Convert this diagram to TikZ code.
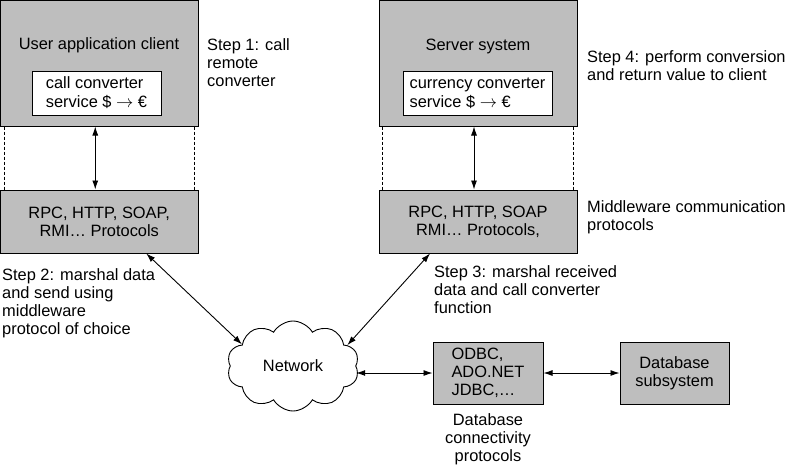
\documentclass[tikz,border=0pt]{standalone}
\usepackage{fontspec}
\setmainfont{Liberation Sans}
\usetikzlibrary{arrows.meta,shapes.symbols,calc}
\definecolor{boxgray}{RGB}{190,190,190}
\begin{document}
\begin{tikzpicture}[x=1pt,y=-1pt,
  every node/.style={font=\fontsize{16.4}{18}\selectfont, inner sep=0pt},
  box/.style={draw, fill=boxgray, line width=1pt, align=center},
  wbox/.style={draw, fill=white, line width=1pt, align=left},
  lbl/.style={align=left, anchor=base west},
  dbl/.style={line width=0.9pt, {Latex[length=9pt,width=6pt]}-{Latex[length=9pt,width=6pt]}},
  dsh/.style={densely dashed, line width=0.5pt}]
\useasboundingbox (0,0) rectangle (787,466);

% client side
\node[box, minimum width=197.5pt, minimum height=125.5pt] (ctop) at (99.25,63.25) {};
\node[anchor=base] (ctitle) at (99,49) {User application client};
\node[wbox, minimum width=129pt, minimum height=44pt] (cin) at (96.5,93) {call converter\\[1pt]service \$ $\rightarrow$ €};
\node[box, minimum width=197.5pt, minimum height=63pt] (cprot) at (99.25,221.5) {RPC, HTTP, SOAP,\\RMI… Protocols};

% server side
\node[box, minimum width=198pt, minimum height=126pt] (stop) at (478,63) {};
\node[anchor=base] (stitle) at (478,50) {Server system};
\node[wbox, minimum width=149pt, minimum height=44pt] (sin) at (477.5,93) {currency converter\\[1pt]service \$ $\rightarrow$ €};
\node[box, minimum width=198pt, minimum height=63pt] (sprot) at (478,221.5) {RPC, HTTP, SOAP\\RMI… Protocols,};

% dashed side lines
\draw[dsh] ([xshift=4pt]ctop.south west) -- ([xshift=4pt]cprot.north west);
\draw[dsh] ([xshift=-4pt]ctop.south east) -- ([xshift=-4pt]cprot.north east);
\draw[dsh] ([xshift=4pt]stop.south west) -- ([xshift=4pt]sprot.north west);
\draw[dsh] ([xshift=-4pt]stop.south east) -- ([xshift=-4pt]sprot.north east);

% vertical arrows
\draw[dbl] ([xshift=-4pt]ctop.south) -- ([xshift=-4pt]cprot.north);
\draw[dbl] ([xshift=-4pt]stop.south) -- ([xshift=-4pt]sprot.north);

% network cloud
\node[cloud, draw, line width=0.9pt, cloud puffs=10, cloud puff arc=120, cloud ignores aspect,
      minimum width=132pt, minimum height=90pt, fill=white] (net) at (293,366) {Network};

% database side
\node[box, align=left, minimum width=110pt, minimum height=62pt] (odbc) at (488,373) {ODBC,\\[-0.5pt]ADO.NET\\JDBC,…};
\node[box, minimum width=109pt, minimum height=62pt] (dbs) at (674.5,373) {Database\\subsystem};

% connectors
\draw[dbl] ([xshift=47pt]cprot.south) -- (net.157);
\draw[dbl] ([xshift=-48pt]sprot.south) -- (net.21);
\draw[dbl] (odbc.west) -- (odbc.west -| net.east);
\draw[dbl] (odbc.east) -- (dbs.west);

% labels (base = baseline of last line)
\node[lbl] (s1) at (207,86) {Step 1: call\\remote\\converter};
\node[lbl] (s4) at (587,80) {Step 4: perform conversion\\and return value to client};
\node[lbl] (mw) at (587,230) {Middleware communication\\protocols};
\node[lbl] (s2) at (2,334) {Step 2: marshal data\\and send using\\middleware\\protocol of choice};
\node[lbl] (s3) at (434,313) {Step 3: marshal received\\data and call converter\\function};
\node[align=center, anchor=base] (dbc) at (488,461) {Database\\connectivity\\protocols};
\end{tikzpicture}
\end{document}
